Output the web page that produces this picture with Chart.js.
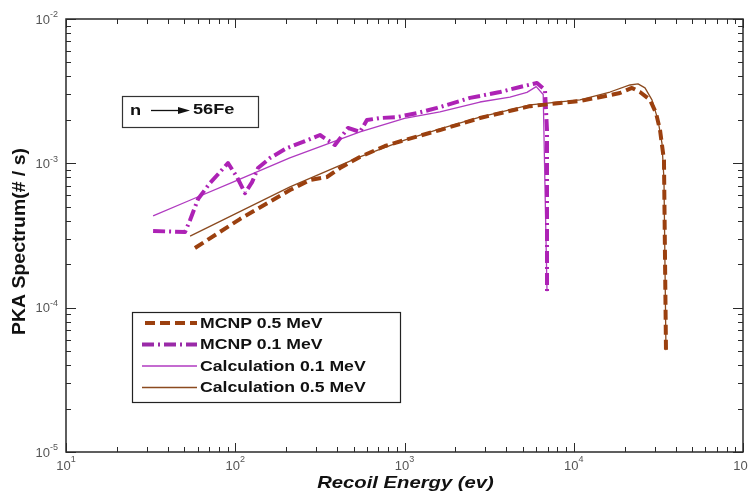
<!DOCTYPE html>
<html>
<head>
<meta charset="utf-8">
<script src="https://cdn.jsdelivr.net/npm/chart.js@4.4.1/dist/chart.umd.min.js"></script>
<style>
  html, body { margin: 0; padding: 0; background: #ffffff; }
  #wrap { width: 748px; height: 495px; }
</style>
</head>
<body>
<div id="wrap"><canvas id="c" width="748" height="495"></canvas></div>
<script>
// ---------------- DATA ----------------
const seriesNames = ["MCNP 0.5 MeV", "MCNP 0.1 MeV", "Calculation 0.1 MeV", "Calculation 0.5 MeV"];

const mcnp05E = [57.8, 106.6, 210.6, 276.7, 348, 416, 545, 767, 1000, 1620, 2790, 5520, 10880, 16370, 18750, 22070, 24600, 28240, 30630, 32340, 34130, 35070];
const mcnp05Y = [2.59e-4, 4.11e-4, 6.53e-4, 7.66e-4, 8.04e-4, 9.27e-4, 1.107e-3, 1.318e-3, 1.45e-3, 1.70e-3, 2.06e-3, 2.49e-3, 2.70e-3, 2.97e-3, 3.07e-3, 3.33e-3, 3.12e-3, 2.75e-3, 2.23e-3, 1.70e-3, 1.05e-3, 5.08e-5];

const mcnp01E = [32.7, 50.5, 54.1, 60.3, 70.9, 81.3, 90.6, 102.4, 114.2, 125.7, 136.3, 160.3, 202.1, 251.3, 316.6, 388.3, 463.6, 545.5, 600, 716, 903, 1186, 1556, 2438, 3666, 4812, 6063, 6761, 6950, 6950];
const mcnp01Y = [3.40e-4, 3.34e-4, 4.05e-4, 5.66e-4, 7.30e-4, 8.70e-4, 1.005e-3, 8.03e-4, 6.22e-4, 7.41e-4, 9.27e-4, 1.088e-3, 1.277e-3, 1.406e-3, 1.571e-3, 1.34e-3, 1.758e-3, 1.65e-3, 1.995e-3, 2.06e-3, 2.09e-3, 2.23e-3, 2.42e-3, 2.84e-3, 3.12e-3, 3.38e-3, 3.60e-3, 3.22e-3, 1.70e-3, 1.26e-4];

const calc01E = [32.7, 54, 100, 210, 546, 1000, 1620, 2790, 4200, 5290, 6000, 6600, 6950];
const calc01Y = [4.32e-4, 5.55e-4, 7.52e-4, 1.09e-3, 1.65e-3, 2.05e-3, 2.27e-3, 2.66e-3, 2.88e-3, 3.10e-3, 3.40e-3, 3.00e-3, 1.30e-4];

const calc05E = [54.1, 100, 210.6, 545, 1000, 1620, 2790, 5520, 10880, 16370, 21480, 23970, 26360, 28980, 31450, 33200, 34130, 35070];
const calc05Y = [3.13e-4, 4.46e-4, 6.86e-4, 1.107e-3, 1.45e-3, 1.73e-3, 2.09e-3, 2.54e-3, 2.75e-3, 3.12e-3, 3.49e-3, 3.55e-3, 3.33e-3, 2.75e-3, 2.0e-3, 1.38e-3, 7.66e-4, 5.08e-5];

const xTickExps = [1, 2, 3, 4, 5];
const yTickExps = [-5, -4, -3, -2];
const xTitle = "Recoil Energy (ev)";
const yTitle = "PKA Spectrum(# / s)";
const annotation = ["n", "56Fe"];

// ---------------- STYLES ----------------
const BROWN = '#9b400f';
const PURPLE = '#ad22b5';
const THIN_PURPLE = '#b03ac0';
const THIN_BROWN = '#8b4a1f';
const FONT = '"Liberation Sans", Arial, sans-serif';

function pts(xs, ys) { return xs.map((x, i) => ({ x: x, y: ys[i] })); }

const datasets = [
  { label: seriesNames[0], data: pts(mcnp05E, mcnp05Y), borderColor: BROWN, borderWidth: 4, borderDash: [10, 5] },
  { label: seriesNames[1], data: pts(mcnp01E, mcnp01Y), borderColor: PURPLE, borderWidth: 4, borderDash: [12, 4, 2, 4] },
  { label: seriesNames[2], data: pts(calc01E, calc01Y), borderColor: THIN_PURPLE, borderWidth: 1.3 },
  { label: seriesNames[3], data: pts(calc05E, calc05Y), borderColor: THIN_BROWN, borderWidth: 1.3 }
].map(d => Object.assign({ pointRadius: 0, tension: 0, fill: false, borderCapStyle: 'butt', borderJoinStyle: 'round' }, d));

function text(ctx, s, x, y, font, color, align, sx, rot) {
  ctx.save();
  ctx.translate(x, y);
  if (rot) ctx.rotate(rot);
  ctx.scale(sx || 1, 1);
  ctx.font = font;
  ctx.fillStyle = color;
  ctx.textAlign = align || 'left';
  ctx.textBaseline = 'middle';
  ctx.fillText(s, 0, 0);
  ctx.restore();
}

const decor = {
  id: 'decor',
  afterDraw(chart) {
    const ctx = chart.ctx;
    const a = chart.chartArea;
    const xs = chart.scales.x, ys = chart.scales.y;
    ctx.save();
    // frame
    ctx.strokeStyle = '#2a2a2a';
    ctx.lineWidth = 1.5;
    ctx.strokeRect(a.left, a.top, a.right - a.left, a.bottom - a.top);
    // ticks
    ctx.lineWidth = 1;
    ctx.beginPath();
    for (let e = xTickExps[0]; e <= xTickExps[xTickExps.length - 1]; e++) {
      for (let m = 1; m <= 9; m++) {
        const v = m * Math.pow(10, e);
        if (v > 1e5 * 1.0001) break;
        const px = Math.round(xs.getPixelForValue(v)) + 0.5;
        const len = m === 1 ? 9 : 5;
        ctx.moveTo(px, a.bottom); ctx.lineTo(px, a.bottom - len);
        ctx.moveTo(px, a.top); ctx.lineTo(px, a.top + len);
      }
    }
    for (let e = yTickExps[0]; e <= yTickExps[yTickExps.length - 1]; e++) {
      for (let m = 1; m <= 9; m++) {
        const v = m * Math.pow(10, e);
        if (v > 1e-2 * 1.0001) break;
        const py = Math.round(ys.getPixelForValue(v)) + 0.5;
        const len = m === 1 ? 10 : 5;
        ctx.moveTo(a.left, py); ctx.lineTo(a.left + len, py);
        ctx.moveTo(a.right, py); ctx.lineTo(a.right - len, py);
      }
    }
    ctx.stroke();

    // tick labels
    const baseFont = '13px ' + FONT, supFont = '9px ' + FONT;
    const lc = '#555555';
    yTickExps.forEach(e => {
      const py = ys.getPixelForValue(Math.pow(10, e));
      ctx.font = baseFont; const w1 = ctx.measureText('10').width;
      ctx.font = supFont; const w2 = ctx.measureText(String(e)).width;
      const x0 = a.left - 8 - (w1 + w2);
      text(ctx, '10', x0, py + 1, baseFont, lc, 'left');
      text(ctx, String(e), x0 + w1, py - 4, supFont, lc, 'left');
    });
    xTickExps.forEach(e => {
      const px = xs.getPixelForValue(Math.pow(10, e));
      ctx.font = baseFont; const w1 = ctx.measureText('10').width;
      ctx.font = supFont; const w2 = ctx.measureText(String(e)).width;
      const x0 = px - (w1 + w2) / 2;
      text(ctx, '10', x0, a.bottom + 14, baseFont, lc, 'left');
      text(ctx, String(e), x0 + w1, a.bottom + 8, supFont, lc, 'left');
    });

    // axis titles
    text(ctx, xTitle, (a.left + a.right) / 2 + 1, a.bottom + 31, 'italic bold 17px ' + FONT, '#111', 'center', 1.19);
    text(ctx, yTitle, 20, (a.top + a.bottom) / 2 + 6, 'bold 18px ' + FONT, '#111', 'center', 1.08, -Math.PI / 2);

    // annotation box
    ctx.strokeStyle = '#333'; ctx.lineWidth = 1.2;
    ctx.strokeRect(122.5, 96.5, 136, 31);
    text(ctx, annotation[0], 130, 111, 'bold 14px ' + FONT, '#111', 'left', 1.3);
    ctx.strokeStyle = '#111'; ctx.lineWidth = 1.3;
    ctx.beginPath(); ctx.moveTo(151, 110.5); ctx.lineTo(180, 110.5); ctx.stroke();
    ctx.fillStyle = '#111';
    ctx.beginPath(); ctx.moveTo(178, 107); ctx.lineTo(190, 110.5); ctx.lineTo(178, 114); ctx.closePath(); ctx.fill();
    text(ctx, annotation[1], 193, 110.5, 'bold 14px ' + FONT, '#111', 'left', 1.3);

    // legend
    ctx.strokeStyle = '#222'; ctx.lineWidth = 1.2;
    ctx.strokeRect(132.5, 312.5, 268, 90);
    const rows = [323, 344.5, 366, 387.5];
    const legendColors = [BROWN, '#9a2aa8', THIN_PURPLE, THIN_BROWN];
    chart.data.datasets.forEach((d, i) => {
      const y = rows[i];
      ctx.save();
      ctx.strokeStyle = legendColors[i];
      ctx.lineWidth = d.borderWidth;
      ctx.setLineDash(d.borderDash || []);
      ctx.lineCap = 'butt';
      ctx.beginPath();
      ctx.moveTo(i === 0 ? 145 : 142, y); ctx.lineTo(197, y);
      ctx.stroke();
      ctx.restore();
      text(ctx, d.label, 200, y + 1, 'bold 14px ' + FONT, '#111', 'left', 1.26);
    });
    ctx.restore();
  }
};

new Chart(document.getElementById('c'), {
  type: 'line',
  data: { datasets: datasets },
  options: {
    responsive: false,
    animation: false,
    devicePixelRatio: 1,
    layout: { padding: { left: 66, right: 5, top: 19, bottom: 43 } },
    plugins: { legend: { display: false }, tooltip: { enabled: false } },
    scales: {
      x: { type: 'logarithmic', min: 10, max: 1e5, display: false },
      y: { type: 'logarithmic', min: 1e-5, max: 1e-2, display: false }
    }
  },
  plugins: [decor]
});
</script>
</body>
</html>
